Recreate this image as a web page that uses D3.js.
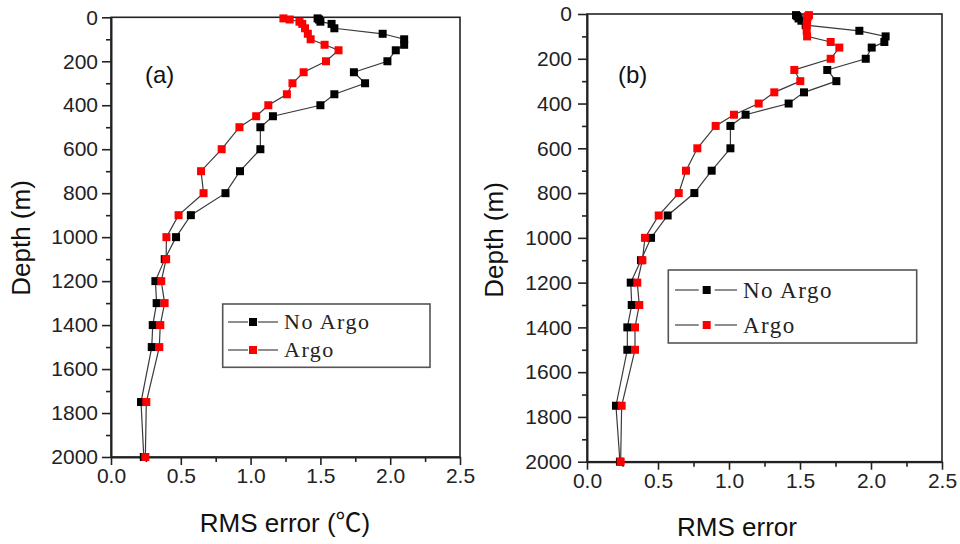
<!DOCTYPE html>
<html>
<head>
<meta charset="utf-8">
<script src="https://cdn.jsdelivr.net/npm/d3@7/dist/d3.min.js"></script>
<style>
  html, body { margin: 0; padding: 0; background: #fff; }
  svg { display: block; }
</style>
</head>
<body>
<svg id="chart" width="960" height="544"></svg>
<script>
// Depth levels (m) shared by every profile
const depths = [5, 10, 20, 30, 50, 75, 100, 125, 150, 200, 250, 300, 350, 400, 450, 500,
                600, 700, 800, 900, 1000, 1100, 1200, 1300, 1400, 1500, 1750, 2000];

// Panel (a): temperature RMS error (°C)
const noArgoA = [1.48, 1.49, 1.50, 1.58, 1.60, 1.946, 2.10, 2.10, 2.04, 1.98, 1.74, 1.82, 1.60, 1.50, 1.16, 1.07,
                 1.07, 0.924, 0.82, 0.572, 0.466, 0.385, 0.318, 0.327, 0.299, 0.292, 0.215, 0.235];
const argoA   = [1.235, 1.28, 1.35, 1.37, 1.39, 1.41, 1.43, 1.53, 1.63, 1.54, 1.38, 1.30, 1.26, 1.127, 1.04, 0.92,
                 0.793, 0.645, 0.663, 0.484, 0.397, 0.395, 0.36, 0.384, 0.353, 0.346, 0.253, 0.246];

// Panel (b): RMS error
const noArgoB = [1.472, 1.48, 1.49, 1.51, 1.54, 1.918, 2.103, 2.094, 2.005, 1.963, 1.692, 1.756, 1.528, 1.42, 1.117, 1.01,
                 1.01, 0.878, 0.756, 0.568, 0.451, 0.38, 0.308, 0.315, 0.284, 0.284, 0.204, 0.232];
const argoB   = [1.563, 1.556, 1.55, 1.55, 1.547, 1.547, 1.55, 1.716, 1.777, 1.716, 1.46, 1.502, 1.319, 1.209, 1.035, 0.906,
                 0.777, 0.697, 0.646, 0.505, 0.408, 0.39, 0.354, 0.368, 0.338, 0.338, 0.244, 0.237];

const seriesNames = ["No Argo", "Argo"];
const seriesColors = ["#000000", "#ff0000"];

const xTicks = [0, 0.5, 1.0, 1.5, 2.0, 2.5];
const xMinor = [0.25, 0.75, 1.25, 1.75, 2.25];
const yTicks = [0, 200, 400, 600, 800, 1000, 1200, 1400, 1600, 1800, 2000];
const yMinor = [100, 300, 500, 700, 900, 1100, 1300, 1500, 1700, 1900];

const svg = d3.select("#chart");
const sans = "'Liberation Sans', Arial, 'Noto Sans CJK SC', sans-serif";
const serif = "'Liberation Serif', 'Times New Roman', serif";

function drawPanel(p) {
  const x = d3.scaleLinear().domain([0, 2.5]).range([p.left, p.right]);
  const y = d3.scaleLinear().domain([0, 2000]).range([p.top, p.bottom]);
  const g = svg.append("g");

  // frame (top and right sides, no ticks)
  g.append("rect")
    .attr("x", p.left).attr("y", p.top)
    .attr("width", p.right - p.left).attr("height", p.bottom - p.top)
    .attr("fill", "none").attr("stroke", "#222").attr("stroke-width", 1.6);

  // bottom axis
  const xAxis = d3.axisBottom(x).tickValues(xTicks).tickFormat(d3.format(".1f"))
    .tickSizeInner(8).tickSizeOuter(0).tickPadding(3);
  const gx = g.append("g").attr("transform", `translate(0,${p.bottom})`).call(xAxis);
  gx.select(".domain").attr("stroke", "#222").attr("stroke-width", 2);
  gx.selectAll(".tick line").attr("stroke", "#222").attr("stroke-width", 1.6);
  gx.selectAll(".tick text").attr("font-family", sans).attr("font-size", 21).attr("fill", "#222")
    .attr("dy", p.xLabelDy);
  const gxm = g.append("g").attr("transform", `translate(0,${p.bottom})`)
    .call(d3.axisBottom(x).tickValues(xMinor).tickSize(5).tickFormat(""));
  gxm.select(".domain").remove();
  gxm.selectAll(".tick line").attr("stroke", "#222").attr("stroke-width", 1.6);

  // left axis
  const yAxis = d3.axisLeft(y).tickValues(yTicks).tickFormat(d3.format("d"))
    .tickSizeInner(9).tickSizeOuter(0).tickPadding(p.yPad);
  const gy = g.append("g").attr("transform", `translate(${p.left},0)`).call(yAxis);
  gy.select(".domain").attr("stroke", "#222").attr("stroke-width", 2);
  gy.selectAll(".tick line").attr("stroke", "#222").attr("stroke-width", 1.6);
  gy.selectAll(".tick text").attr("font-family", sans).attr("font-size", 21).attr("fill", "#222");
  const gym = g.append("g").attr("transform", `translate(${p.left},0)`)
    .call(d3.axisLeft(y).tickValues(yMinor).tickSize(5).tickFormat(""));
  gym.select(".domain").remove();
  gym.selectAll(".tick line").attr("stroke", "#222").attr("stroke-width", 1.6);

  // axis titles
  g.append("text").attr("x", p.xTitleX).attr("y", p.xTitleY).attr("text-anchor", "middle")
    .attr("font-family", sans).attr("font-size", 26).attr("fill", "#111").text(p.xTitle);
  g.append("text").attr("transform", `translate(${p.yTitleX},${p.yTitleY}) rotate(-90)`)
    .attr("text-anchor", "middle").attr("font-family", sans).attr("font-size", 26)
    .attr("fill", "#111").text("Depth (m)");

  // panel tag
  g.append("text").attr("x", p.tagX).attr("y", p.tagY)
    .attr("font-family", sans).attr("font-size", 24).attr("fill", "#111").text(p.tag);

  // profiles: line then square markers, red drawn over black
  const line = d3.line().x(d => x(d[0])).y(d => y(d[1]));
  const ms = 8;
  p.series.forEach((vals, i) => {
    const pts = vals.map((v, k) => [v, depths[k]]);
    g.append("path").datum(pts).attr("d", line)
      .attr("fill", "none").attr("stroke", "#3a3a3a").attr("stroke-width", 1.2);
    g.selectAll(null).data(pts).enter().append("rect")
      .attr("x", d => x(d[0]) - ms / 2).attr("y", d => y(d[1]) - ms / 2)
      .attr("width", ms).attr("height", ms).attr("fill", seriesColors[i]);
  });

  // legend
  const L = p.legend;
  g.append("rect").attr("x", L.x0).attr("y", L.y0)
    .attr("width", L.x1 - L.x0).attr("height", L.y1 - L.y0)
    .attr("fill", "#fff").attr("stroke", "#555").attr("stroke-width", 1.6);
  seriesNames.forEach((name, i) => {
    const yy = L.rowY[i];
    g.append("line").attr("x1", L.lx0).attr("x2", L.sx - L.gap).attr("y1", yy).attr("y2", yy)
      .attr("stroke", "#444").attr("stroke-width", 1.2);
    g.append("line").attr("x1", L.sx + L.gap).attr("x2", L.lx1).attr("y1", yy).attr("y2", yy)
      .attr("stroke", "#444").attr("stroke-width", 1.2);
    g.append("rect").attr("x", L.sx - 4).attr("y", yy - 4).attr("width", 8).attr("height", 8)
      .attr("fill", seriesColors[i]);
    g.append("text").attr("x", L.tx).attr("y", yy + L.fs * 0.33)
      .attr("font-family", serif).attr("font-size", L.fs).attr("letter-spacing", L.ls)
      .attr("fill", "#222").text(name);
  });
}

drawPanel({
  left: 111, right: 460, top: 17.3, bottom: 457,
  yPad: 4, xLabelDy: "0.72em",
  xTitle: "RMS error (\u2103)", xTitleX: 285, xTitleY: 532,
  yTitleX: 30, yTitleY: 238,
  tag: "(a)", tagX: 145, tagY: 83,
  series: [noArgoA, argoA],
  legend: { x0: 222.7, y0: 304, x1: 430, y1: 367.3, lx0: 228, lx1: 278, sx: 253, gap: 5,
            rowY: [322, 350], tx: 284, fs: 22, ls: 1.5 }
});

drawPanel({
  left: 587, right: 942, top: 14, bottom: 461.7,
  yPad: 6, xLabelDy: "0.72em",
  xTitle: "RMS error", xTitleX: 737, xTitleY: 536,
  yTitleX: 503, yTitleY: 240,
  tag: "(b)", tagX: 618, tagY: 83,
  series: [noArgoB, argoB],
  legend: { x0: 668.3, y0: 270, x1: 916.7, y1: 343, lx0: 675, lx1: 737, sx: 706.7, gap: 8,
            rowY: [290, 325], tx: 743, fs: 23, ls: 1.5 }
});
</script>
</body>
</html>
